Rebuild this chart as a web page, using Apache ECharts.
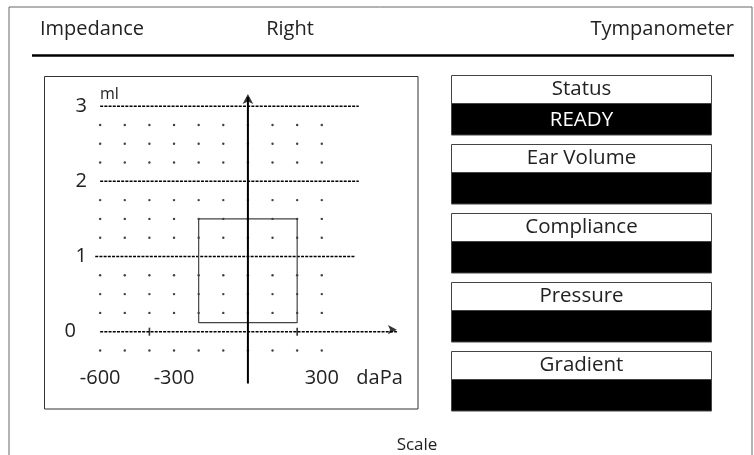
<!DOCTYPE html>
<html>
<head>
<meta charset="utf-8">
<script src="https://cdn.jsdelivr.net/npm/echarts@6/dist/echarts.min.js"></script>
<style>
html,body{margin:0;padding:0;background:#fff;}
#chart{width:754px;height:455px;}
</style>
</head>
<body>
<div id="chart"></div>
<script>
// ---- data ----
const headerTexts = ['Impedance', 'Right', 'Tympanometer'];
const footerText = 'Scale';
const pressureColumns = [-600, -500, -400, -300, -200, -100, 0, 100, 200, 300]; // daPa
const dotRows = [2.75, 2.5, 2.25, 1.75, 1.5, 1.25, 0.75, 0.5, 0.25, -0.25];   // ml
const xLabelValues = [-600, -300, 300];
const yLabelValues = [0, 1, 2, 3];
const levelValues = [3, 2, 1, 0];
const levelStart = [-600, -600, -620, -600];
const levelEnd = [450, 450, 435, 605];
const zeroArrowAt = 605;
const pressureAxisExtent = [-0.69, 3.12];
const zeroLineTicks = [-400, 200];
const normPressure = [-200, 200];
const normCompliance = [0.12, 1.5];
const panelTitles = ['Status', 'Ear Volume', 'Compliance', 'Pressure', 'Gradient'];
const panelValues = ['READY', '', '', '', ''];

const FONT = '"Open Sans", "Noto Sans", sans-serif';
const TXT = '#222';

// dot grid built from the tick arrays
const dots = [];
pressureColumns.forEach(x => dotRows.forEach(y => dots.push([x, y])));

const series = [];
series.push({
  type: 'scatter', name: 'grid dots', data: dots, symbolSize: 2.4,
  itemStyle: { color: '#111' }, silent: true, z: 2
});
levelValues.forEach((v, i) => {
  series.push({
    type: 'line', name: 'level ' + v, data: [[levelStart[i], v], [levelEnd[i], v]],
    symbol: 'none', clip: false,
    lineStyle: { color: '#000', width: 1.5, type: [3, 1.2] }, silent: true, z: 3
  });
});
// vertical (compliance) axis line at 0 daPa
series.push({
  type: 'line', name: 'ml axis', data: [[0, pressureAxisExtent[0]], [0, pressureAxisExtent[1]]],
  symbol: 'none', clip: false, lineStyle: { color: '#000', width: 2 }, silent: true, z: 5
});
// arrow heads
series.push({
  type: 'scatter', name: 'arrow up', data: [[0, pressureAxisExtent[1]]], clip: false,
  symbol: 'arrow', symbolSize: [8, 10], symbolOffset: [0, -3], itemStyle: { color: '#000' }, silent: true, z: 6
});
series.push({
  type: 'scatter', name: 'arrow right', data: [[zeroArrowAt, 0]], clip: false,
  symbol: 'arrow', symbolSize: [7, 9], symbolRotate: -90, symbolOffset: [0, -2], itemStyle: { color: '#000' }, silent: true, z: 6
});
series.push({
  type: 'scatter', name: 'zero ticks', data: zeroLineTicks.map(x => [x, 0]),
  symbol: 'rect', symbolSize: [1.6, 8], itemStyle: { color: '#000' }, silent: true, z: 4
});
series.push({
  type: 'line', name: 'normal region', symbol: 'none', silent: true, z: 4,
  data: [[normPressure[0], normCompliance[0]], [normPressure[0], normCompliance[1]],
         [normPressure[1], normCompliance[1]], [normPressure[1], normCompliance[0]],
         [normPressure[0], normCompliance[0]]],
  lineStyle: { color: '#444', width: 1.2 }
});

// frame, header and panels
const graphics = [];
graphics.push({ type: 'rect', shape: { x: 9, y: 7, width: 743, height: 470 },
  style: { fill: 'none', stroke: '#666', lineWidth: 1 }, silent: true });
graphics.push({ type: 'text', x: 40, y: 29, style: { text: headerTexts[0], font: '20px ' + FONT, fill: TXT, align: 'left', verticalAlign: 'middle' } });
graphics.push({ type: 'text', x: 290, y: 29, style: { text: headerTexts[1], font: '20px ' + FONT, fill: TXT, align: 'center', verticalAlign: 'middle' } });
graphics.push({ type: 'text', x: 734, y: 29, style: { text: headerTexts[2], font: '20px ' + FONT, fill: TXT, align: 'right', verticalAlign: 'middle' } });
graphics.push({ type: 'line', shape: { x1: 32, y1: 55.5, x2: 734, y2: 55.5 }, style: { stroke: '#000', lineWidth: 2.6 }, silent: true });
graphics.push({ type: 'rect', shape: { x: 44.5, y: 76.5, width: 373.5, height: 332.5 },
  style: { fill: 'none', stroke: '#333', lineWidth: 1 }, silent: true });
graphics.push({ type: 'text', x: 417, y: 445, style: { text: footerText, font: '17px ' + FONT, fill: TXT, align: 'center', verticalAlign: 'middle' } });
panelTitles.forEach((t, i) => {
  const top = 75 + 69 * i;
  graphics.push({ type: 'rect', shape: { x: 451.5, y: top + 0.5, width: 260, height: 28 },
    style: { fill: '#fff', stroke: '#444', lineWidth: 1 }, silent: true });
  graphics.push({ type: 'rect', shape: { x: 451.5, y: top + 28.5, width: 260, height: 31.5 },
    style: { fill: '#000', stroke: '#444', lineWidth: 1 }, silent: true });
  graphics.push({ type: 'text', x: 581.5, y: top + 14.5,
    style: { text: t, font: '20.5px ' + FONT, fill: TXT, align: 'center', verticalAlign: 'middle' } });
  if (panelValues[i]) {
    graphics.push({ type: 'text', x: 581.5, y: top + 45,
      style: { text: panelValues[i], font: '20.5px ' + FONT, fill: '#fff', align: 'center', verticalAlign: 'middle' } });
  }
});

const chart = echarts.init(document.getElementById('chart'), null, { renderer: 'canvas' });
chart.setOption({
  animation: false,
  backgroundColor: '#fff',
  grid: { left: 50.9, right: 754 - 420.3, top: 91.1, bottom: 455 - 365.5, containLabel: false },
  xAxis: {
    type: 'value', min: -800, max: 700,
    name: 'daPa', nameLocation: 'end', nameGap: -64,
    nameTextStyle: { fontFamily: FONT, fontSize: 20, color: TXT, align: 'left', verticalAlign: 'top', padding: [3, 0, 0, 0] },
    axisLine: { show: false, onZero: false }, axisTick: { show: false }, splitLine: { show: false },
    axisLabel: { customValues: xLabelValues, margin: 3, fontFamily: FONT, fontSize: 20, color: TXT,
      formatter: v => String(v) }
  },
  yAxis: {
    type: 'value', min: -0.45, max: 3.2,
    name: 'ml', nameLocation: 'end', nameGap: -3,
    nameTextStyle: { fontFamily: FONT, fontSize: 16, color: TXT, align: 'left', verticalAlign: 'middle', padding: [0, 0, 0, 49] },
    axisLine: { show: false, onZero: false }, axisTick: { show: false }, splitLine: { show: false },
    axisLabel: { customValues: yLabelValues, margin: -36, fontFamily: FONT, fontSize: 20, color: TXT,
      formatter: v => v === 0 ? '{z|0}' : String(v),
      rich: { z: { fontFamily: FONT, fontSize: 20, color: TXT, padding: [0, 11, 0, 0] } } }
  },
  series: series,
  graphic: graphics
});
</script>
</body>
</html>
